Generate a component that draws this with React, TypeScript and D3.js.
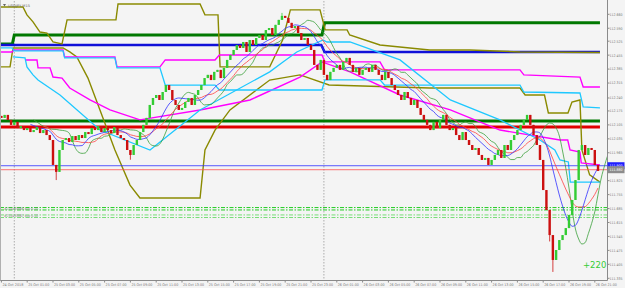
import React from 'react';
import * as d3 from 'd3';

const W = 625, H = 288;

// M15 closes, bar i at hour i*0.25 after 24 Oct 23:00
const closes = [
  112.140,112.155,112.130,112.105,112.120,112.089,112.099,112.079,
  112.089,112.069,112.079,112.094,112.064,112.079,112.054,112.029,
  111.904,111.869,111.979,112.029,112.039,112.019,112.049,112.029,
  112.054,112.039,112.069,112.059,112.089,112.079,112.099,112.069,
  112.089,112.079,112.064,112.094,112.054,112.039,112.029,111.979,
  111.954,112.004,112.029,112.069,112.105,112.140,112.205,112.240,
  112.255,112.230,112.270,112.305,112.280,112.230,112.205,112.180,
  112.190,112.220,112.240,112.205,112.255,112.280,112.305,112.340,
  112.356,112.330,112.371,112.381,112.340,112.391,112.431,112.456,
  112.481,112.506,112.491,112.521,112.471,112.531,112.506,112.541,
  112.556,112.531,112.581,112.591,112.556,112.607,112.632,112.652,
  112.642,112.617,112.591,112.601,112.566,112.531,112.541,112.506,
  112.481,112.406,112.381,112.431,112.356,112.330,112.371,112.391,
  112.406,112.381,112.421,112.441,112.406,112.371,112.391,112.356,
  112.381,112.391,112.371,112.406,112.381,112.356,112.330,112.371,
  112.340,112.305,112.280,112.255,112.230,112.270,112.240,112.205,
  112.230,112.190,112.155,112.130,112.105,112.079,112.120,112.089,
  112.130,112.155,112.105,112.079,112.089,112.054,112.029,112.069,
  112.029,112.004,111.979,111.989,111.954,111.929,111.939,111.904,
  111.929,111.954,111.979,111.939,112.004,111.979,112.029,112.054,
  112.079,112.105,112.130,112.155,112.105,112.054,112.004,111.929,
  111.778,111.678,111.552,111.427,111.477,111.527,111.552,111.587,
  111.653,111.728,111.828,111.979,112.004,111.954,111.989,111.979,
  111.904,111.874,
];
const firstOpen = 112.150;
const wickExtremes: [number, number][] = [
  [17, 111.828], [40, 111.930], [87, 112.667], [171, 111.367], [170, 111.520],
];

const timeLabels = [
  '24 Oct 2018','25 Oct 01:00','25 Oct 03:00','25 Oct 05:00','25 Oct 07:00','25 Oct 09:00',
  '25 Oct 11:00','25 Oct 13:00','25 Oct 15:00','25 Oct 17:00','25 Oct 19:00','25 Oct 21:00',
  '25 Oct 23:00','26 Oct 01:00','26 Oct 03:00','26 Oct 05:00','26 Oct 07:00','26 Oct 09:00',
  '26 Oct 11:00','26 Oct 13:00','26 Oct 15:00','26 Oct 17:00','26 Oct 19:00','26 Oct 21:00',
];
const priceTicks = [
  112.660,112.590,112.525,112.455,112.385,112.315,112.240,112.175,112.105,112.035,
  111.965,111.825,111.755,111.685,111.615,111.545,111.475,111.405,111.335,
];
const daySeparators = [1, 25];

const greenTop: [number, number][] = [[-0.11,112.511],[0.85,112.511],[1.0,112.556],[24.85,112.556],[25.05,112.617],[46.4,112.617]];
const blueTop: [number, number][] = [[-0.11,112.506],[24.8,112.506],[25.05,112.471],[46.4,112.471]];
const greenMid: [number, number][] = [[-0.11,112.125],[46.4,112.125]];
const redMid: [number, number][] = [[-0.11,112.094],[46.4,112.094]];
const bidPrice = 111.900;
const askPrice = 111.880;
const orderLevels = [111.690, 111.678, 111.653, 111.640];
const orderTexts = ['#215493866 buy 0.10', '#215493866 tp', '#215493867 buy 0.10', '#215493867 tp'];

// moving average settings: fast (blue), slow (red), shifted (green)
const maFastPeriod = 10;
const maSlowPeriod = 14;
const maShiftPeriod = 5;
const maShiftBars = 6;

const oliveA: [number, number][] = [
  [-0.11,112.697],[1.67,112.697],[1.98,112.657],[2.45,112.622],[2.99,112.571],[3.53,112.566],[4.0,112.521],[4.7,112.511],
  [5.09,112.632],[8.88,112.632],[9.04,112.712],[15.4,112.712],[15.78,112.657],[16.79,112.657],[16.95,112.396],[20.8,112.396],
  [21.8,112.531],[22.4,112.682],[24.7,112.682],[25.1,112.582],[26.8,112.582],[27.0,112.556],[29.35,112.506],[33.2,112.481],
  [36.3,112.481],[40.2,112.471],[46.4,112.468],
];
const oliveB: [number, number][] = [
  [-0.11,112.396],[0.67,112.396],[0.9,112.491],[4.78,112.491],[5.3,112.471],[5.85,112.446],[6.71,112.340],[7.64,112.180],
  [8.8,111.979],[9.97,111.803],[10.74,111.738],[15.4,111.738],[15.78,111.979],[16.56,112.079],[17.72,112.180],[20.8,112.330],
  [23.15,112.356],[25.4,112.305],[33.2,112.290],[40.2,112.290],[40.6,112.255],[42.1,112.255],[42.4,112.165],
  [43.92,112.165],[44.23,112.220],[44.85,112.230],[45.0,111.979],[45.6,111.854],[46.4,111.818],
];
const magentaA: [number, number][] = [
  [-0.11,112.471],[0.82,112.471],[0.98,112.481],[4.78,112.481],[4.9,112.446],[8.8,112.446],[8.96,112.396],[12.29,112.396],
  [12.7,112.431],[16.56,112.431],[16.9,112.456],[24.85,112.456],[25.08,112.421],[29.35,112.421],[29.7,112.381],[40.2,112.381],
  [40.5,112.356],[44.85,112.345],[45.1,112.295],[46.4,112.295],
];
const magentaB: [number, number][] = [
  [1.83,112.431],[2.76,112.431],[2.84,112.391],[3.77,112.391],[4.0,112.345],[4.7,112.340],[5.3,112.290],[6.87,112.230],
  [8.42,112.180],[10.74,112.130],[15.4,112.180],[19.27,112.230],[23.15,112.345],[24.85,112.421],[27.02,112.371],[30.9,112.255],
  [34.8,112.180],[38.65,112.079],[43.3,112.029],[43.9,112.029],[44.08,111.979],[44.85,111.969],[44.95,111.914],[46.4,111.904],
];
const cyanA: [number, number][] = [
  [-0.11,112.491],[0.82,112.491],[0.98,112.476],[4.78,112.476],[4.9,112.441],[8.8,112.441],[8.96,112.391],[12.29,112.391],
  [12.7,112.305],[16.56,112.305],[16.9,112.280],[24.85,112.280],[25.08,112.331],[29.35,112.331],[29.7,112.305],[40.2,112.305],
  [40.5,112.270],[44.85,112.265],[45.1,112.195],[46.4,112.190],
];
const cyanB: [number, number][] = [
  [0.9,112.446],[1.83,112.441],[1.98,112.396],[2.45,112.356],[2.84,112.330],[4.54,112.255],[7.64,112.079],[11.52,111.979],
  [15.4,112.180],[20.8,112.371],[21.83,112.421],[22.9,112.471],[24.93,112.531],[25.24,112.521],[27.02,112.521],[30.9,112.431],
  [34.8,112.230],[38.65,112.130],[41.75,112.029],[42.9,111.979],[43.3,111.929],[43.95,111.919],[44.1,111.818],[46.4,111.818],
];

function sma(src: number[], n: number): (number | null)[] {
  return src.map((_, i) => (i < n - 1 ? null : d3.mean(src.slice(i - n + 1, i + 1)) as number));
}

export default function App() {
  const x = d3.scaleLinear().domain([0, 47]).range([1.4, 607.7]);
  const y = d3.scaleLinear().domain([111.335, 112.660]).range([278.3, 14.3]);
  const bx = (i: number) => x(i * 0.25);
  const plotR = 607.5, plotB = 280.5;

  const poly = d3.line<[number, number]>().x(d => x(d[0])).y(d => y(d[1]));
  const maLine = d3.line<[number, number | null]>()
    .defined(d => d[1] !== null)
    .x(d => bx(d[0])).y(d => y(d[1] as number))
    .curve(d3.curveMonotoneX);

  const ext = new Map(wickExtremes);
  const candles = closes.map((c, i) => {
    const o = i === 0 ? firstOpen : closes[i - 1];
    const e = ext.get(i);
    const hi = Math.max(o, c, e ?? -Infinity);
    const lo = Math.min(o, c, e ?? Infinity);
    return { i, o, c, hi, lo };
  });

  const maFast = sma(closes, maFastPeriod).map((v, i) => [i, v] as [number, number | null]);
  const maSlow = sma(closes, maSlowPeriod).map((v, i) => [i, v] as [number, number | null]);
  const maShift = sma(closes, maShiftPeriod).map((v, i) => [i + maShiftBars, v] as [number, number | null]);

  const font = 'DejaVu Sans, sans-serif';
  const olive = '#8a8a00';
  const tiny = 3.6;

  return (
    <svg width={W} height={H} style={{ position: 'absolute', left: 0, top: 0, background: '#f4f4f4' }} fontFamily={font}>
      <defs>
        <clipPath id="plot"><rect x={0} y={0} width={plotR} height={plotB} /></clipPath>
      </defs>
      <rect x={0} y={0} width={W} height={H} fill="#f4f4f4" />
      {daySeparators.map(h => (
        <line key={h} x1={x(h)} x2={x(h)} y1={1} y2={plotB} stroke="#9a9a9a" strokeWidth={0.8} strokeDasharray="1.5,1.5" />
      ))}
      <g clipPath="url(#plot)">
        <path d={poly(greenTop)!} fill="none" stroke="#007800" strokeWidth={3} />
        <path d={poly(blueTop)!} fill="none" stroke="#1010d8" strokeWidth={2.5} />
        <path d={poly(greenMid)!} fill="none" stroke="#007800" strokeWidth={3} />
        <path d={poly(redMid)!} fill="none" stroke="#e00000" strokeWidth={3} />
        <path d={poly(oliveA)!} fill="none" stroke={olive} strokeWidth={1.4} />
        <path d={poly(oliveB)!} fill="none" stroke={olive} strokeWidth={1.4} />
        <path d={poly(magentaA)!} fill="none" stroke="#ff00ff" strokeWidth={1.4} />
        <path d={poly(magentaB)!} fill="none" stroke="#ff00ff" strokeWidth={1.4} />
        <path d={poly(cyanA)!} fill="none" stroke="#1ec8ff" strokeWidth={1.3} />
        <path d={poly(cyanB)!} fill="none" stroke="#1ec8ff" strokeWidth={1.3} />
        <line x1={0} x2={plotR} y1={y(bidPrice)} y2={y(bidPrice)} stroke="#3030ff" strokeWidth={0.8} />
        <line x1={0} x2={plotR} y1={y(askPrice)} y2={y(askPrice)} stroke="#ff5050" strokeWidth={0.8} />
        {orderLevels.map((p, k) => (
          <line key={p} x1={0} x2={plotR} y1={y(p)} y2={y(p)} stroke={k < 2 ? '#22cc22' : '#77dd77'} strokeWidth={1} strokeDasharray="4,1.5,1.5,1.5" />
        ))}
        {orderLevels.map((p, k) => (k % 2 === 0 ? (
          <text key={'t' + p} x={4} y={y(p) + 2} fontSize={tiny} fill="#888" textLength={34} lengthAdjust="spacingAndGlyphs">{orderTexts[k]}</text>
        ) : null))}
        <path d={maLine(maShift)!} fill="none" stroke="#3aa03a" strokeWidth={0.8} />
        <path d={maLine(maSlow)!} fill="none" stroke="#ff4040" strokeWidth={0.8} />
        <path d={maLine(maFast)!} fill="none" stroke="#3030ff" strokeWidth={0.8} />
        {candles.map(d => {
          const up = d.c >= d.o;
          const col = up ? '#33cc33' : '#cc1010';
          const top = y(Math.max(d.o, d.c));
          const h = Math.max(0.8, Math.abs(y(d.o) - y(d.c)));
          return (
            <g key={d.i}>
              <line x1={bx(d.i)} x2={bx(d.i)} y1={y(d.hi)} y2={y(d.lo)} stroke={col} strokeWidth={0.8} />
              <rect x={bx(d.i) - 1.2} y={top} width={2.4} height={h} fill={col} />
            </g>
          );
        })}
      </g>
      <line x1={plotR} x2={plotR} y1={0} y2={plotB} stroke="#8a8a8a" strokeWidth={1} />
      <line x1={0} x2={plotR} y1={plotB} y2={plotB} stroke="#8a8a8a" strokeWidth={1} />
      <line x1={0.5} x2={0.5} y1={0} y2={plotB} stroke="#b0b0b0" strokeWidth={1} />
      {priceTicks.map(p => (
        <g key={p}>
          <line x1={plotR} x2={plotR + 2} y1={y(p)} y2={y(p)} stroke="#8a8a8a" />
          <text x={609.5} y={y(p) + 1.4} fontSize={tiny} fill="#777" textLength={13} lengthAdjust="spacingAndGlyphs">{p.toFixed(3)}</text>
        </g>
      ))}
      {timeLabels.map((t, k) => (
        <g key={t}>
          <line x1={x(k * 2)} x2={x(k * 2)} y1={plotB} y2={plotB + 2} stroke="#8a8a8a" />
          <text x={x(k * 2) + 1} y={285.5} fontSize={tiny} fill="#777" textLength={21} lengthAdjust="spacingAndGlyphs">{t}</text>
        </g>
      ))}
      <rect x={plotR} y={y(bidPrice) - 3.5} width={17} height={7} fill="#2020ff" />
      <text x={609.5} y={y(bidPrice) + 1.4} fontSize={tiny} fill="#fff" textLength={13} lengthAdjust="spacingAndGlyphs">{bidPrice.toFixed(3)}</text>
      <rect x={plotR} y={y(askPrice) - 3.5} width={17} height={7} fill="#8c8c8c" />
      <text x={609.5} y={y(askPrice) + 1.4} fontSize={tiny} fill="#fff" textLength={13} lengthAdjust="spacingAndGlyphs">{askPrice.toFixed(3)}</text>
      <path d="M3,4 L6,4 L4.5,6.5 Z" fill="#666" />
      <text x={8} y={7} fontSize={tiny} fill="#666" textLength={22} lengthAdjust="spacingAndGlyphs">USDJPY,M15</text>
      <text x={583} y={268} fontSize={8.5} fill="#33cc33">+220</text>
    </svg>
  );
}
